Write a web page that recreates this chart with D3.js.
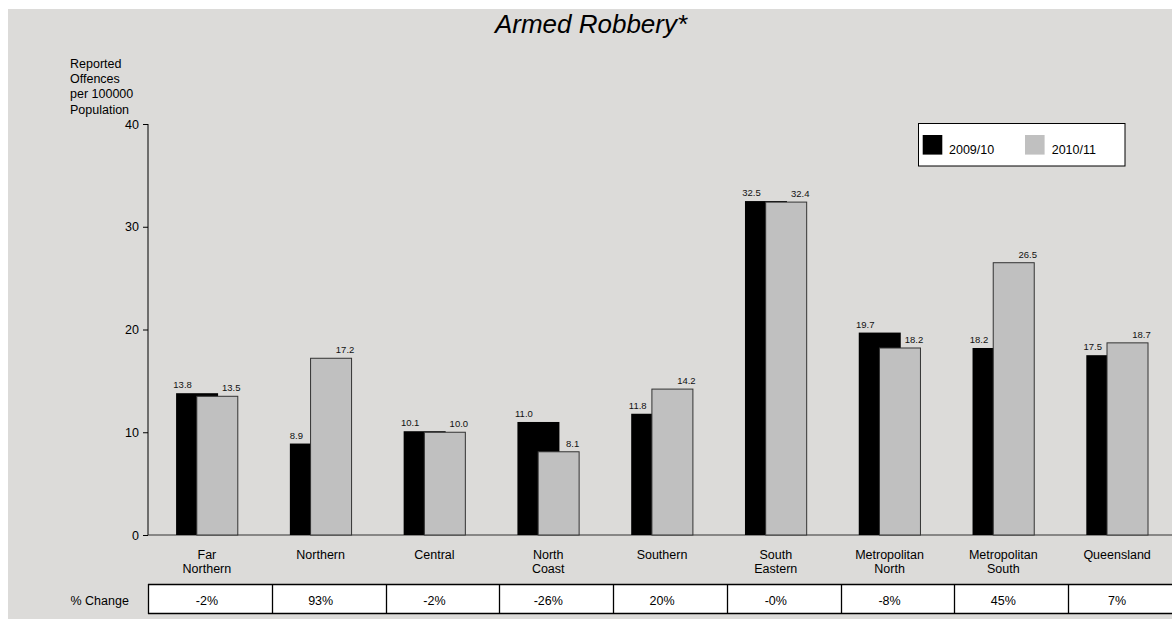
<!DOCTYPE html>
<html>
<head>
<meta charset="utf-8">
<script src="https://cdn.jsdelivr.net/npm/d3@7"></script>
<style>
  html, body { margin: 0; padding: 0; background: #ffffff; }
  svg { display: block; font-family: "Liberation Sans", Arial, sans-serif; }
</style>
</head>
<body>
<svg id="chart" width="1172" height="619"></svg>
<script>
const categories = ["Far Northern", "Northern", "Central", "North Coast", "Southern", "South Eastern", "Metropolitan North", "Metropolitan South", "Queensland"];
const categoryLines = [["Far", "Northern"], ["Northern"], ["Central"], ["North", "Coast"], ["Southern"], ["South", "Eastern"], ["Metropolitan", "North"], ["Metropolitan", "South"], ["Queensland"]];
const seriesNames = ["2009/10", "2010/11"];
const values2009 = [13.8, 8.9, 10.1, 11.0, 11.8, 32.5, 19.7, 18.2, 17.5];
const values2010 = [13.5, 17.2, 10.0, 8.1, 14.2, 32.4, 18.2, 26.5, 18.7];
const pctChange = ["-2%", "93%", "-2%", "-26%", "20%", "-0%", "-8%", "45%", "7%"];
const yTicks = [0, 10, 20, 30, 40];
const yLabelLines = ["Reported", "Offences", "per 100000", "Population"];
const title = "Armed Robbery*";

const svg = d3.select("#chart");
const BG = "#dcdbd9";
const GRAY = "#c0c0c0";

// background panel
svg.append("rect").attr("x", 8).attr("y", 9).attr("width", 1164).attr("height", 610).attr("fill", BG);

const x = d3.scaleBand().domain(categories).range([150, 1174]).padding(0);
const y = d3.scaleLinear().domain([0, 40]).range([535, 124]);
const step = x.step();
const center = c => x(c) + step / 2;

// title
svg.append("text").attr("x", 591).attr("y", 33).attr("text-anchor", "middle")
  .attr("font-size", 26).attr("font-style", "italic").attr("fill", "#000").text(title);

// y label
const yl = svg.append("text").attr("font-size", 12.5).attr("fill", "#000");
yLabelLines.forEach((t, i) => yl.append("tspan").attr("x", 70).attr("y", 67.5 + i * 15.4).text(t));

// y axis
const yAxis = d3.axisLeft(y).tickValues(yTicks).tickSize(5).tickSizeOuter(0).tickPadding(4).tickFormat(d3.format("d"));
const ya = svg.append("g").attr("transform", "translate(148,0)").call(yAxis);
ya.select(".domain").remove();
ya.selectAll("line").attr("stroke", "#000");
ya.selectAll("text").attr("font-size", 12.5).attr("fill", "#000").attr("font-family", "Liberation Sans, Arial, sans-serif");
svg.append("line").attr("x1", 148).attr("x2", 148).attr("y1", y(40)).attr("y2", y(0)).attr("stroke", "#000");

// x axis line
svg.append("line").attr("x1", 148).attr("x2", 1172).attr("y1", y(0)).attr("y2", y(0)).attr("stroke", "#333");

// bars
const bw1 = 42, bw2 = 41, off = 20.7;
const g = svg.append("g");
categories.forEach((c, i) => {
  const x0 = center(c) - 30.8;
  g.append("rect").attr("x", x0).attr("y", y(values2009[i])).attr("width", bw1)
    .attr("height", y(0) - y(values2009[i])).attr("fill", "#000");
  g.append("rect").attr("x", x0 + off).attr("y", y(values2010[i])).attr("width", bw2)
    .attr("height", y(0) - y(values2010[i])).attr("fill", GRAY).attr("stroke", "#333").attr("stroke-width", 1);
  g.append("text").attr("x", x0 + 6.5).attr("y", y(values2009[i]) - 5).attr("text-anchor", "middle")
    .attr("font-size", 9.5).attr("fill", "#111").text(values2009[i].toFixed(1));
  g.append("text").attr("x", x0 + off + bw2 - 6.5).attr("y", y(values2010[i]) - 5).attr("text-anchor", "middle")
    .attr("font-size", 9.5).attr("fill", "#111").text(values2010[i].toFixed(1));
  // category label
  const t = svg.append("text").attr("text-anchor", "middle").attr("font-size", 12.5).attr("fill", "#000");
  categoryLines[i].forEach((ln, j) => t.append("tspan").attr("x", center(c)).attr("y", 559 + j * 13.5).text(ln));
});

// legend
svg.append("rect").attr("x", 918.5).attr("y", 123.5).attr("width", 206.5).attr("height", 42.5)
  .attr("fill", "#fff").attr("stroke", "#000").attr("stroke-width", 1);
svg.append("rect").attr("x", 922.7).attr("y", 135).attr("width", 19.6).attr("height", 19.6).attr("fill", "#000");
svg.append("text").attr("x", 949).attr("y", 153.5).attr("font-size", 12.5).attr("fill", "#000").text(seriesNames[0]);
svg.append("rect").attr("x", 1025).attr("y", 135).attr("width", 19.6).attr("height", 19.6).attr("fill", GRAY);
svg.append("text").attr("x", 1051.7).attr("y", 153.5).attr("font-size", 12.5).attr("fill", "#000").text(seriesNames[1]);

// table
svg.append("rect").attr("x", 148).attr("y", 584).attr("width", 1024).attr("height", 30).attr("fill", "#fff");
svg.append("line").attr("x1", 148).attr("x2", 1172).attr("y1", 584.5).attr("y2", 584.5).attr("stroke", "#000").attr("stroke-width", 1.3);
svg.append("line").attr("x1", 148).attr("x2", 1172).attr("y1", 613.5).attr("y2", 613.5).attr("stroke", "#000").attr("stroke-width", 1.3);
svg.append("line").attr("x1", 148.5).attr("x2", 148.5).attr("y1", 584).attr("y2", 614).attr("stroke", "#000").attr("stroke-width", 1.3);
categories.slice(1).forEach((c, i) => {
  const bx = Math.round(x(c) + 8) + 0.5;
  svg.append("line").attr("x1", bx).attr("x2", bx).attr("y1", 584).attr("y2", 614).attr("stroke", "#000").attr("stroke-width", 1.3);
});
svg.append("text").attr("x", 70.5).attr("y", 605).attr("font-size", 12.5).attr("fill", "#000").text("% Change");
categories.forEach((c, i) => {
  svg.append("text").attr("x", center(c)).attr("y", 605).attr("text-anchor", "middle")
    .attr("font-size", 12.5).attr("fill", "#000").text(pctChange[i]);
});
</script>
</body>
</html>
